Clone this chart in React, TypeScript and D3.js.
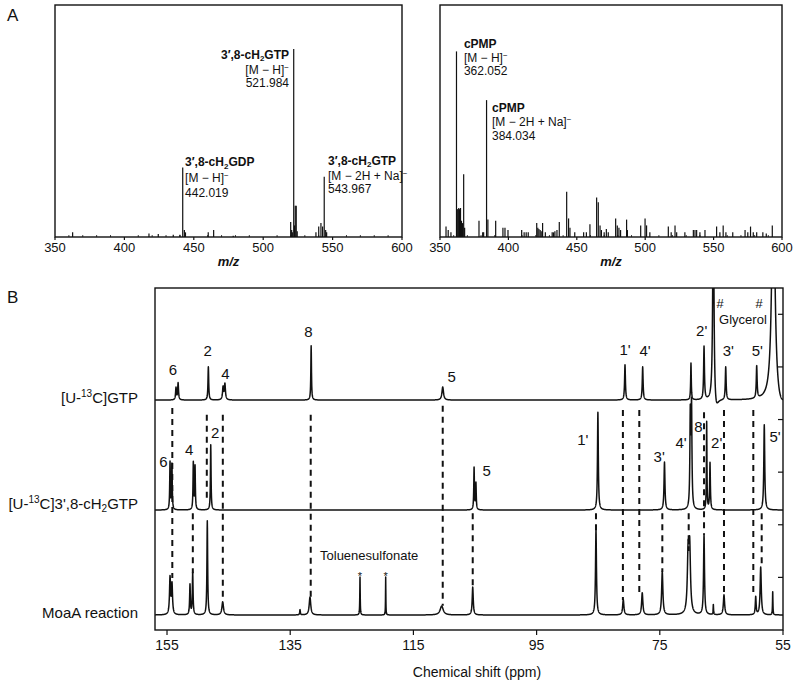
import React, { useMemo } from 'react';
import * as d3 from 'd3';

// ---------- Panel A data ----------
const MZ_TICKS = [350, 400, 450, 500, 550, 600];

// [m/z, relative intensity %]
const GTP_MS_PEAKS: [number, number][] = [
  [362.7, 2], [417.7, 1.5], [424.4, 1.3], [435.2, 1], [440, 1], [442.019, 30], [443.2, 3], [444, 2],
  [460.4, 2], [464.3, 3], [478.4, 0.5], [519.8, 6.5], [520.5, 3], [521, 2], [521.984, 81], [522.6, 5],
  [523.1, 13.5], [523.8, 13.5], [524.5, 2.5], [538, 2], [540, 4.5], [541.6, 6], [542.8, 4.5], [543.967, 26],
  [545, 3], [545.7, 2],
];

const CPMP_MS_PEAKS: [number, number][] = [
  [354.4, 4.5], [356, 3], [358, 2], [362.052, 80], [362.6, 12], [363.2, 12], [363.7, 12.5], [364.3, 12],
  [365, 12.5], [365.7, 7], [366.5, 6], [367.3, 27], [368, 4], [378.5, 7], [381.2, 2], [381.9, 2], [384.034, 59],
  [385, 7.5], [390.7, 7], [396, 4], [397.5, 4], [399.7, 3], [409.7, 3], [411.5, 2], [413, 2], [414.5, 2],
  [420.7, 6], [421.5, 4], [422.3, 3.5], [423.2, 3], [424, 2.5], [425, 6], [427, 2], [432, 2], [433, 2],
  [434, 2.5], [435.5, 3], [437.2, 6.5], [442.6, 19.5], [444, 8], [445, 4], [448.5, 2], [455, 2], [457, 2],
  [459.6, 5.5], [464.5, 17], [465.7, 15], [467, 5], [468, 3], [470, 2], [471.6, 3.5], [473, 2], [478.4, 8],
  [479.6, 5], [480.8, 4], [482, 3], [486.4, 7.5], [487, 3], [496.7, 5], [499.9, 8], [501, 5], [503.4, 2],
  [516.9, 4.5], [519, 2], [521.8, 5], [523, 2], [529, 2], [535.2, 3], [536.4, 3], [537.6, 3], [540, 2],
  [543.7, 3], [552.2, 4.5], [554.6, 2], [557, 5], [559, 2], [564, 2], [573, 3], [575, 2], [577, 4.5],
  [579, 2], [581.5, 2], [586, 2], [588.5, 1.5], [592.9, 5],
];

type IonLabel = { mz: number; ys: number[]; anchor: 'start' | 'end'; pre: string; sub: string; post: string; ion: string; mass: string };

const GTP_MS_LABELS: IonLabel[] = [
  { mz: 518.6, ys: [76.8, 70.3, 64.7], anchor: 'end', pre: '3′,8-cH', sub: '2', post: 'GTP', ion: '[M − H]', mass: '521.984' },
  { mz: 443.7, ys: [30.6, 23.9, 17.2], anchor: 'start', pre: '3′,8-cH', sub: '2', post: 'GDP', ion: '[M − H]', mass: '442.019' },
  { mz: 546.7, ys: [31.2, 24.6, 19.0], anchor: 'start', pre: '3′,8-cH', sub: '2', post: 'GTP', ion: '[M − 2H + Na]', mass: '543.967' },
];

const CPMP_MS_LABELS: IonLabel[] = [
  { mz: 367.5, ys: [81.5, 75.4, 69.8], anchor: 'start', pre: 'cPMP', sub: '', post: '', ion: '[M − H]', mass: '362.052' },
  { mz: 388.0, ys: [53.9, 47.8, 41.8], anchor: 'start', pre: 'cPMP', sub: '', post: '', ion: '[M − 2H + Na]', mass: '384.034' },
];

// ---------- Panel B data ----------
const PPM_TICKS = [155, 135, 115, 95, 75, 55];
const INTENSITY_TICKS = [10, 20, 30, 40, 50, 60];

// [ppm, height, half-width(ppm)]
const GTP_NMR_PEAKS: [number, number, number][] = [
  [153.54, 2.3, 0.08], [153.2, 3.2, 0.08], [148.29, 6.3, 0.07], [145.9, 2.4, 0.1], [145.6, 3.0, 0.1],
  [131.6, 10.3, 0.06], [110.24, 2.5, 0.15], [80.65, 6.7, 0.08], [77.78, 6.3, 0.08], [69.94, 7.0, 0.06],
  [67.82, 10.1, 0.08], [66.31, 40, 0.12], [65.9, -2.6, 0.4], [64.3, 6.3, 0.08], [59.27, 6.1, 0.08],
  [56.57, 45, 0.3], [55.5, -2.0, 0.9],
];

const CH2GTP_NMR_PEAKS: [number, number, number][] = [
  [154.51, 9.0, 0.06], [154.2, 8.6, 0.06], [150.73, 8.9, 0.06], [150.45, 8.2, 0.06], [147.9, 12.4, 0.06],
  [105.15, 8.0, 0.06], [104.85, 5.0, 0.06], [85.05, 18.6, 0.08], [74.24, 9.1, 0.09], [70.05, 17.5, 0.08],
  [69.85, 19.0, 0.08], [67.39, 16.7, 0.05], [66.85, 8.9, 0.07], [58.04, 16.2, 0.09],
];

const MOAA_NMR_PEAKS: [number, number, number][] = [
  [154.51, 7.0, 0.1], [154.19, 5.7, 0.1], [151.27, 5.7, 0.07], [150.83, 8.0, 0.07], [148.46, 17.9, 0.07],
  [145.96, 2.5, 0.15], [133.41, 1.0, 0.06], [131.79, 3.4, 0.15], [123.67, 7.2, 0.04], [119.5, 7.2, 0.03],
  [110.41, 1.7, 0.3], [105.37, 5.3, 0.1], [85.36, 16.2, 0.09], [80.93, 2.9, 0.12], [77.85, 4.2, 0.12],
  [74.6, 8.2, 0.12], [70.4, 11.0, 0.15], [70.15, 12.0, 0.15], [67.82, 15.2, 0.09], [66.31, 1.9, 0.04],
  [64.58, 3.8, 0.12], [59.43, 3.4, 0.08], [58.62, 9.1, 0.11], [56.67, 4.4, 0.04],
];

const SPECTRA_BASELINES = [43.7, 22.8, 2.85];
const SPECTRA_NAMES = ['GTP', 'cH2GTP', 'MoaA'];

// [ppm, top, bottom] in intensity units
const DASH_GUIDES: [number, number, number][] = [
  [154.14, 42.2, 9.9], [150.81, 22.2, 10.8], [148.54, 40.9, 24.7], [145.94, 40.9, 5.5], [131.67, 40.9, 6.3],
  [110.24, 42.6, 4.6], [105.37, 22.2, 8.4], [85.36, 22.2, 18.6], [80.99, 41.8, 5.7], [78.33, 41.8, 7.0],
  [74.59, 22.2, 11.0], [70.31, 22.2, 15.0], [67.82, 41.4, 18.1], [64.58, 41.8, 6.7], [59.82, 41.8, 6.5],
  [58.46, 22.2, 12.0],
];

// [text, ppm, y]
const NMR_LABELS: [string, number, number][] = [
  ['6', 154.03, 48.5], ['2', 148.4, 52.1], ['4', 145.5, 47.7], ['8', 132.05, 55.6], ['5', 108.8, 47.2],
  ["1'", 80.65, 52.3], ["4'", 77.4, 52.0], ["2'", 68.2, 55.8], ["3'", 63.88, 52.0], ["5'", 59.17, 52.0],
  ['6', 155.57, 31.0], ['4', 151.4, 33.3], ['2', 147.2, 36.4], ['5', 103.1, 29.3], ["1'", 87.5, 35.2],
  ["3'", 75.1, 31.9], ["4'", 71.56, 34.6], ['8', 68.75, 37.7], ["2'", 65.76, 34.6], ["5'", 56.3, 35.8],
];

const FONT = '"Liberation Sans", Arial, Helvetica, sans-serif';

function lorentzTrace(peaks: [number, number, number][], base: number, lo: number, hi: number) {
  const xs: number[] = [];
  for (let p = lo; p <= hi; p += 0.02) xs.push(p);
  peaks.forEach(([c]) => xs.push(c));
  xs.sort((a, b) => a - b);
  return xs.map((x) => {
    let v = base;
    for (const [c, h, w] of peaks) {
      const d = (x - c) / w;
      v += h / (1 + d * d);
    }
    return [x, v] as [number, number];
  });
}

function MsLabel({ l, x, y }: { l: IonLabel; x: d3.ScaleLinear<number, number>; y: d3.ScaleLinear<number, number> }) {
  const px = x(l.mz);
  return (
    <g fontFamily={FONT} fontSize={12} fill="#111" textAnchor={l.anchor}>
      <text x={px} y={y(l.ys[0])} fontWeight="bold">
        {l.pre}
        {l.sub && (
          <>
            <tspan dy={2.5} fontSize={8}>{l.sub}</tspan>
            <tspan dy={-2.5}>{l.post}</tspan>
          </>
        )}
      </text>
      <text x={px} y={y(l.ys[1])}>
        {l.ion}
        <tspan dy={-4} fontSize={8}>−</tspan>
      </text>
      <text x={px} y={y(l.ys[2])}>{l.mass}</text>
    </g>
  );
}

function MsPanel({ x0, x1, peaks, labels }: { x0: number; x1: number; peaks: [number, number][]; labels: IonLabel[] }) {
  const x = d3.scaleLinear().domain([350, 600]).range([x0, x1]);
  const y = d3.scaleLinear().domain([0, 100]).range([237, 5]);
  const minor = d3.range(360, 600, 10).filter((v) => v % 50 !== 0);
  return (
    <g>
      {peaks.map(([m, h], i) => (
        <line key={i} x1={x(m)} x2={x(m)} y1={y(0)} y2={y(h)} stroke="#111" strokeWidth={1.2} />
      ))}
      <rect x={x0} y={y(100)} width={x1 - x0} height={y(0) - y(100)} fill="none" stroke="#111" strokeWidth={1.4} />
      {MZ_TICKS.map((t) => (
        <g key={t}>
          <line x1={x(t)} x2={x(t)} y1={y(0)} y2={y(0) + 3} stroke="#111" strokeWidth={1.2} />
          <text x={x(t)} y={252} textAnchor="middle" fontFamily={FONT} fontSize={13} fill="#111">{t}</text>
        </g>
      ))}
      {minor.map((t) => (
        <line key={t} x1={x(t)} x2={x(t)} y1={y(0)} y2={y(0) - 2} stroke="#111" strokeWidth={0.8} />
      ))}
      <text x={(x0 + x1) / 2} y={266} textAnchor="middle" fontFamily={FONT} fontSize={13} fontWeight="bold" fontStyle="italic" fill="#111">m/z</text>
      {labels.map((l, i) => (
        <MsLabel key={i} l={l} x={x} y={y} />
      ))}
    </g>
  );
}

export default function App() {
  const xB = d3.scaleLinear().domain([156.95, 55]).range([155, 783]);
  const yB = d3.scaleLinear().domain([0, 65]).range([630, 288]);
  const traces = useMemo(
    () => [GTP_NMR_PEAKS, CH2GTP_NMR_PEAKS, MOAA_NMR_PEAKS].map((p, i) => lorentzTrace(p, SPECTRA_BASELINES[i], 55, 156.95)),
    []
  );
  const line = d3
    .line<[number, number]>()
    .x((d) => xB(d[0]))
    .y((d) => yB(d[1]));

  return (
    <svg width={800} height={684} style={{ position: 'absolute', left: 0, top: 0, background: '#fff' }}>
      <rect width={800} height={684} fill="#fff" />
      <text x={7} y={21} fontFamily={FONT} fontSize={17} fill="#111">A</text>
      <text x={7} y={303} fontFamily={FONT} fontSize={17} fill="#111">B</text>

      <MsPanel x0={55} x1={402} peaks={GTP_MS_PEAKS} labels={GTP_MS_LABELS} />
      <MsPanel x0={440} x1={782} peaks={CPMP_MS_PEAKS} labels={CPMP_MS_LABELS} />

      {/* Panel B */}
      <defs>
        <clipPath id="nmrclip">
          <rect x={155} y={288} width={628} height={342} />
        </clipPath>
      </defs>
      <g clipPath="url(#nmrclip)">
        {DASH_GUIDES.map(([p, a, b], i) => (
          <line key={i} x1={xB(p)} x2={xB(p)} y1={yB(a)} y2={yB(b)} stroke="#111" strokeWidth={2} strokeDasharray="6,5" />
        ))}
        {traces.map((t, i) => (
          <path key={SPECTRA_NAMES[i]} d={line(t) || ''} fill="none" stroke="#111" strokeWidth={1.5} strokeLinejoin="round" />
        ))}
      </g>
      <rect x={155} y={288} width={628} height={342} fill="none" stroke="#111" strokeWidth={1.4} />
      {PPM_TICKS.map((t) => (
        <g key={t}>
          <line x1={xB(t)} x2={xB(t)} y1={630} y2={635} stroke="#111" strokeWidth={1.2} />
          <text x={xB(t)} y={650} textAnchor="middle" fontFamily={FONT} fontSize={14} fill="#111">{t}</text>
        </g>
      ))}
      {INTENSITY_TICKS.map((t) => (
        <line key={t} x1={783} x2={778} y1={yB(t)} y2={yB(t)} stroke="#111" strokeWidth={1.2} />
      ))}
      <text x={477} y={677} textAnchor="middle" fontFamily={FONT} fontSize={14} fill="#111">Chemical shift (ppm)</text>

      <g fontFamily={FONT} fontSize={15} fill="#111" textAnchor="middle">
        {NMR_LABELS.map(([t, p, v], i) => (
          <text key={i} x={xB(p)} y={yB(v)}>{t}</text>
        ))}
      </g>
      <g fontFamily={FONT} fill="#111">
        <text x={xB(65.23)} y={yB(61.2)} fontSize={13} textAnchor="middle" fontStyle="italic">#</text>
        <text x={xB(58.9)} y={yB(61.2)} fontSize={13} textAnchor="middle" fontStyle="italic">#</text>
        <text x={xB(61.5)} y={yB(58.2)} fontSize={13} textAnchor="middle">Glycerol</text>
        <text x={xB(130.16)} y={yB(13.3)} fontSize={13}>Toluenesulfonate</text>
        <text x={xB(123.67)} y={yB(9.5)} fontSize={11} textAnchor="middle">*</text>
        <text x={xB(119.5)} y={yB(9.5)} fontSize={11} textAnchor="middle">*</text>
      </g>

      <g fontFamily={FONT} fontSize={15} fill="#111" textAnchor="end">
        <text x={138} y={403}>
          [U-<tspan dy={-6} fontSize={10}>13</tspan>
          <tspan dy={6}>C]GTP</tspan>
        </text>
        <text x={138} y={509}>
          [U-<tspan dy={-6} fontSize={10}>13</tspan>
          <tspan dy={6}>C]3',8-cH</tspan>
          <tspan dy={3} fontSize={10}>2</tspan>
          <tspan dy={-3}>GTP</tspan>
        </text>
        <text x={138} y={618}>MoaA reaction</text>
      </g>
    </svg>
  );
}
